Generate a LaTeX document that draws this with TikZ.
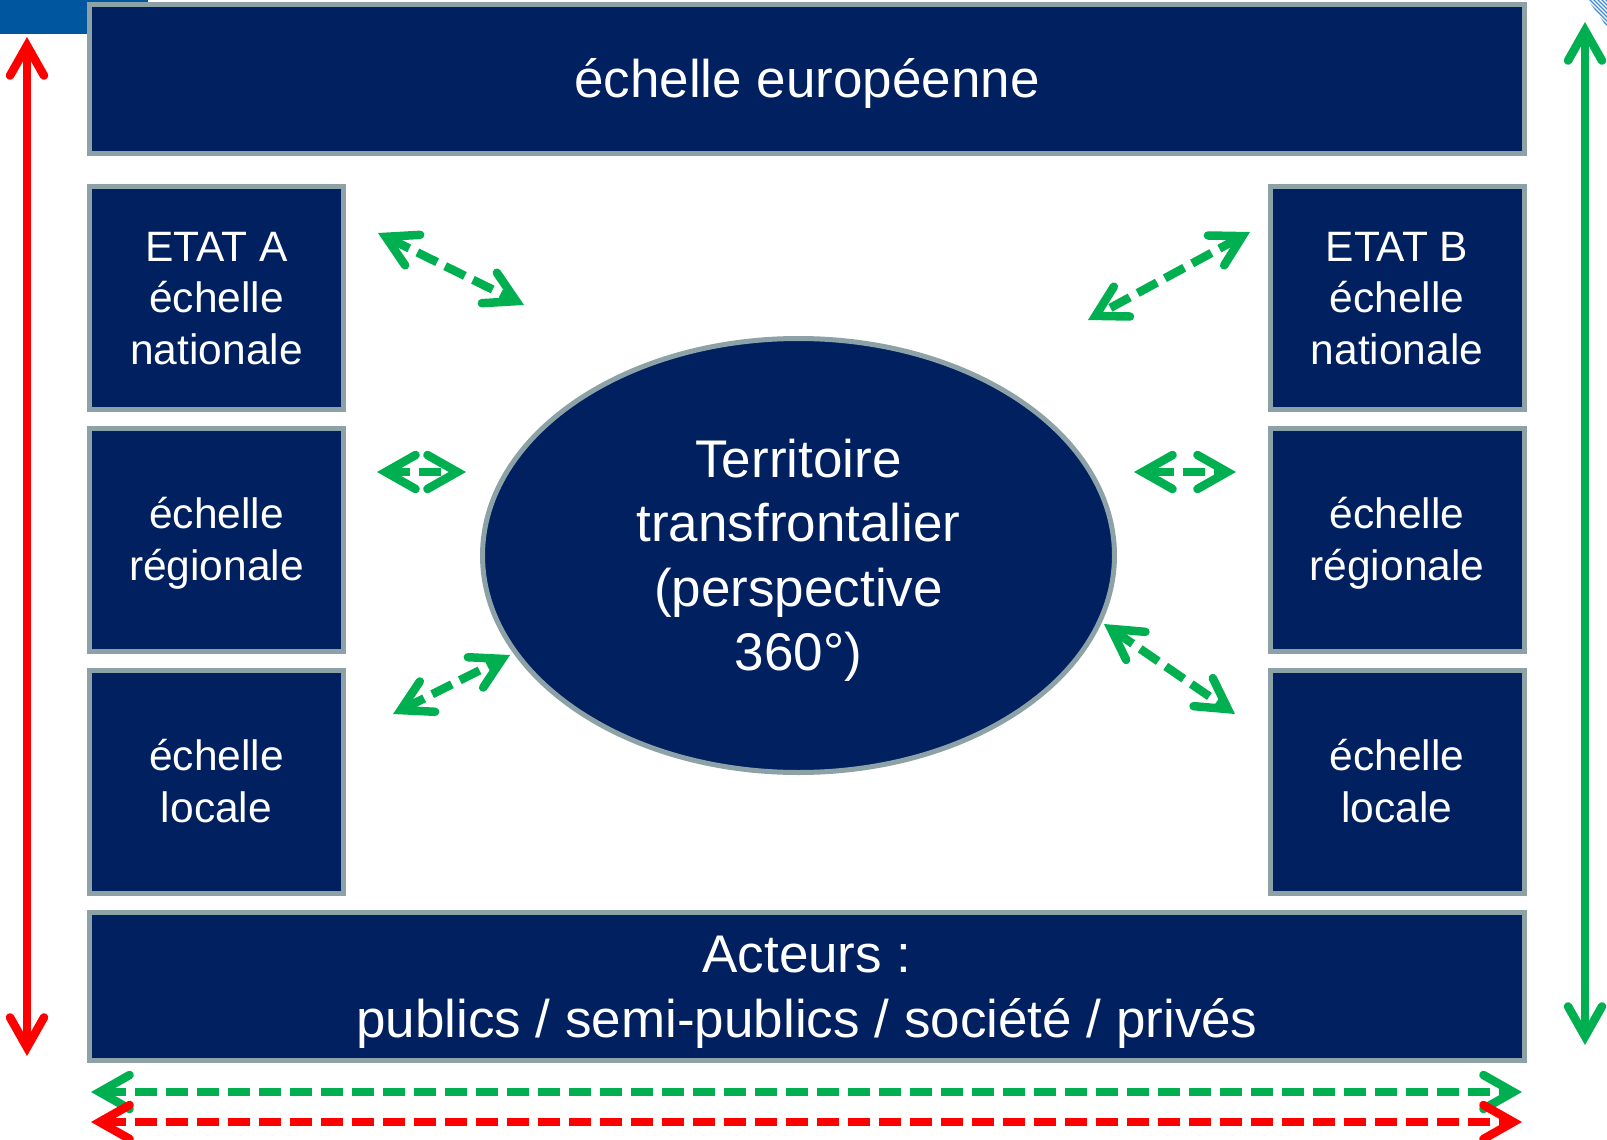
\documentclass[tikz,border=0pt]{standalone}
\usepackage{fontspec}
\setmainfont{Liberation Sans}
\usetikzlibrary{arrows.meta,shapes.geometric}
\definecolor{navy}{HTML}{002060}
\definecolor{rim}{HTML}{8DA2A7}
\definecolor{grn}{HTML}{00B050}
\definecolor{rd}{HTML}{FF0000}
\definecolor{tabblue}{HTML}{0057A0}
\definecolor{hatch}{HTML}{3C8BD3}
% struts giving the first line the font ascent and the last line its descent
\newcommand\ascstrut{\rule{0pt}{0.905em}}
\newcommand\descstrut{\rule[-0.212em]{0pt}{0pt}}
\begin{document}
\begin{tikzpicture}[x=1pt,y=-1pt,
  >={Straight Barb[length=30pt,width=34pt,line width=8.5pt,sharp,line cap=round]},
  panel/.style={draw=rim, line width=5pt, fill=navy, text=white, inner sep=0pt,
    align=center, font=\fontsize{42.5}{51.5}\selectfont,
    execute at end node={\descstrut}},
  bigpanel/.style={panel, font=\fontsize{53}{64.3}\selectfont},
  sidebox/.style={panel, minimum width=254pt, minimum height=223pt},
  link/.style={grn, line width=8.5pt, <->, dash pattern=on 22pt off 9pt},
  span/.style={line width=8.5pt, <->}]
\useasboundingbox (0,0) rectangle (1607,1140);

% corner tab and hatched corner
\fill[tabblue] (0,0) rectangle (148,34);
\begin{scope}
  \clip (1588,0) -- (1607,0) -- (1607,27) -- cycle;
  \foreach \k in {0,...,12}
    \draw[hatch, line width=1.3pt] (1560+4*\k,-10) -- (1600+4*\k,30);
\end{scope}

% panels
\node[bigpanel, minimum width=1435pt, minimum height=149pt] (eu) at (807,79) {\ascstrut échelle européenne};
\node[sidebox] (natA) at (216.5,298) {\ascstrut ETAT A\\échelle\\nationale};
\node[sidebox] (regA) at (216.5,540) {\ascstrut échelle\\régionale};
\node[sidebox] (locA) at (216.5,782) {\ascstrut échelle\\locale};
\node[sidebox] (natB) at (1397,298) {\ascstrut ETAT B\\échelle\\nationale};
\node[sidebox] (regB) at (1397,540) {\ascstrut échelle\\régionale};
\node[sidebox] (locB) at (1397,782) {\ascstrut échelle\\locale};
\node[bigpanel, minimum width=1435pt, minimum height=148pt] (act) at (807,986.5)
  {\ascstrut Acteurs :\\publics / semi-publics / société / privés};
\node[bigpanel, ellipse, minimum width=632pt, minimum height=434pt] (terr) at (798.5,555.5)
  {\ascstrut Territoire\\transfrontalier\\(perspective\\360°)};

% arrow ends
\coordinate (a1) at (378,233);  \coordinate (a2) at (524,305);
\coordinate (b1) at (377,472);  \coordinate (b2) at (466,472);
\coordinate (c1) at (393,714);  \coordinate (c2) at (510,655);
\coordinate (d1) at (1250,232); \coordinate (d2) at (1088,320);
\coordinate (e1) at (1134,472); \coordinate (e2) at (1236,472);
\coordinate (f1) at (1104,624); \coordinate (f2) at (1235,714);
\coordinate (g1) at (91,1092);  \coordinate (g2) at (1522,1092);
\coordinate (h1) at (91,1122);  \coordinate (h2) at (1522,1122);
\coordinate (v1) at (27,37);    \coordinate (v2) at (27,1056);
\coordinate (w1) at (1585,22);  \coordinate (w2) at (1585,1045);

% exchanges between scales (short ones phased so one dash sits in the middle)
\draw[link] (a1) -- (a2);
\draw[link, dash phase=1.5pt] (b1) -- (b2);
\draw[link] (c1) -- (c2);
\draw[link] (d1) -- (d2);
\draw[link, dash phase=26pt] (e1) -- (e2);
\draw[link] (f1) -- (f2);
\draw[link] (g1) -- (g2);
\draw[link, rd] (h1) -- (h2);

% vertical spans
\draw[span, rd] (v1) -- (v2);
\draw[span, grn] (w1) -- (w2);
\end{tikzpicture}
\end{document}
